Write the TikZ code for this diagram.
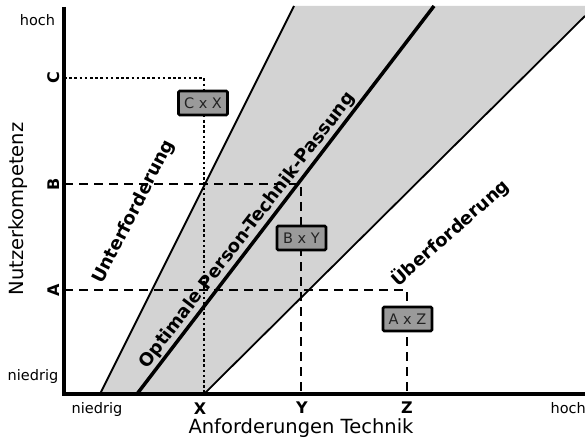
\documentclass[tikz,border=0pt]{standalone}
\usepackage{fontspec}
\setmainfont{DejaVu Sans}
\definecolor{bandgray}{HTML}{D3D3D3}
\definecolor{boxgray}{HTML}{9A9A9A}
\definecolor{boxtext}{HTML}{222222}
\begin{document}
\begin{tikzpicture}[x=1pt,y=-1pt,
  axis/.style={line width=3.5pt},
  bandline/.style={line width=1.8pt},
  fitline/.style={line width=3.5pt},
  guidedash/.style={line width=2pt, dash pattern=on 9pt off 6pt},
  guidedot/.style={line width=2.6pt, dash pattern=on 2.6pt off 2.6pt},
  combo/.style={draw, line width=2.6pt, rounded corners=1.2pt, fill=boxgray, text=boxtext, minimum width=49pt, minimum height=24pt, inner sep=0pt, font=\fontsize{14.5}{14.5}\selectfont},
  tick/.style={inner sep=0pt, font=\fontsize{16}{16}\selectfont\bfseries},
  scalelbl/.style={inner sep=0pt, font=\fontsize{14.5}{14.5}\selectfont},
  zone/.style={inner sep=0pt, font=\fontsize{18}{18}\selectfont\bfseries},
  axlabel/.style={inner sep=0pt, font=\fontsize{19.5}{19.5}\selectfont}]
\useasboundingbox (0,0) rectangle (585,443);
% key points
\coordinate (O) at (64,394);
\coordinate (Ytop) at (64,7);
\coordinate (Xend) at (585,394);
\coordinate (L0) at (100,394);
\coordinate (L1) at (294,6);
\coordinate (M0) at (137,394);
\coordinate (M1) at (434,6);
\coordinate (R0) at (204,394);
\coordinate (R1) at (585,16);
\coordinate (TR) at (585,6);
% band
\fill[bandgray] (L0) -- (L1) -- (TR) -- (R1) -- (R0) -- cycle;
% guide points
\coordinate (cC) at (64,78);
\coordinate (pC) at (204,78);
\coordinate (xX) at (204,394);
\coordinate (cB) at (64,184);
\coordinate (pB) at (301,184);
\coordinate (xY) at (301,394);
\coordinate (cA) at (64,290);
\coordinate (pA) at (407,290);
\coordinate (xZ) at (407,394);
\draw[guidedot] (cC) -- (pC) -- (xX);
\draw[guidedash] (cB) -- (pB) -- (xY);
\draw[guidedash] (cA) -- (pA) -- (xZ);
% band lines
\draw[bandline] (L0) -- (L1);
\draw[fitline] (M0) -- (M1);
\draw[bandline] (R0) -- (R1);
% axes
\draw[axis] (Ytop) -- (O) -- (Xend);
% boxes
\node[combo] (bCX) at (203,103) {C x X};
\node[combo] (bBY) at (301.5,238) {B x Y};
\node[combo] (bAZ) at (407.5,319) {A x Z};
% ticks
\node[tick, rotate=90] (tC) at (54,78) {C};
\node[tick, rotate=90] (tB) at (54,184) {B};
\node[tick, rotate=90] (tA) at (54,290) {A};
\node[tick] (tX) at (200,409) {X};
\node[tick] (tY) at (302,408) {Y};
\node[tick] (tZ) at (407,408) {Z};
\node[scalelbl] (yhi) at (37.5,20) {hoch};
\node[scalelbl] (ylo) at (33,376) {niedrig};
\node[scalelbl] (xlo) at (97,409) {niedrig};
\node[scalelbl, anchor=east] (xhi) at (586,408) {hoch};
\node[axlabel] (xlab) at (301,428) {Anforderungen Technik};
\node[axlabel, rotate=90] (ylab) at (18,209) {Nutzerkompetenz};
% zones
\node[zone, rotate=63] (zU) at (134,212) {Unterforderung};
\node[zone, rotate=52.5] (zO) at (247.5,230.5) {Optimale Person-Technik-Passung};
\node[zone, rotate=41.5] (zUe) at (450,232.5) {Überforderung};
\end{tikzpicture}
\end{document}
